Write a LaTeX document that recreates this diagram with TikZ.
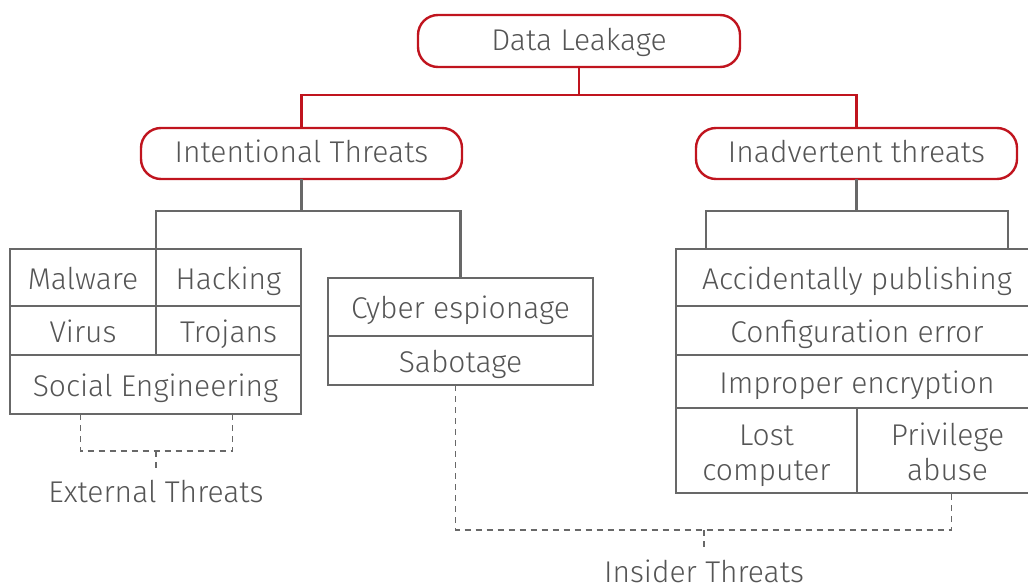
\documentclass[tikz,border=0pt]{standalone}
\usepackage{fontspec}
\setmainfont{Fira Sans Light}
\usepackage{tikz}
\usetikzlibrary{positioning, calc}
\definecolor{leakred}{RGB}{192,20,30}
\definecolor{linegray}{RGB}{104,104,104}
\definecolor{textgray}{RGB}{85,85,85}
\tikzset{
	threat/.style={
			rectangle, rounded corners=20pt,
			draw=leakred, line width=2.4pt, minimum width=321pt, minimum height=51pt,
			inner sep=0pt, outer sep=0pt, text=textgray, text height=19pt, text depth=0pt, text centered},
	cell/.style={
			rectangle, draw=linegray, line width=2.4pt, inner sep=0pt, outer sep=0pt,
			text=textgray, text height=23pt, text depth=0pt, text centered},
	twoline/.style={
			rectangle, draw=linegray, line width=2.4pt, inner sep=0pt, outer sep=0pt,
			text=textgray, align=center, text height=59pt, text depth=0pt},
	redline/.style={draw=leakred, line width=2.4pt},
	grayline/.style={draw=linegray, line width=2.4pt},
	dashline/.style={draw=linegray, line width=1.1pt, dash pattern=on 6pt off 5pt},
	groupname/.style={text=textgray, inner sep=0pt, text height=21pt, text depth=0pt},
}

\begin{document}
\begin{tikzpicture}[x=1pt, y=-1pt, font=\fontsize{30}{35}\selectfont]
	\useasboundingbox (0,0) rectangle (1028,583);

	% top of the tree
	\node[threat, minimum width=322pt, minimum height=52pt] (root) at (579,41) {Data Leakage};
	\node[threat] (intent) at (301.5,153.5) {Intentional Threats};
	\node[threat] (inadv) at (856.5,153.5) {Inadvertent threats};

	\coordinate (rootsplit) at (579,95);
	\draw[redline] (root.south) -- (rootsplit) -| (intent.north);
	\draw[redline] (rootsplit) -| (inadv.north);

	% intentional: external attacks
	\node[cell, minimum width=146pt, minimum height=57pt, anchor=north west] (mal) at (10,249) {Malware};
	\node[cell, minimum width=145pt, minimum height=57pt, right=0pt of mal] (hack) {Hacking};
	\node[cell, minimum width=146pt, minimum height=49pt, below=0pt of mal] (virus) {Virus};
	\node[cell, minimum width=145pt, minimum height=49pt, right=0pt of virus] (troj) {Trojans};
	\node[cell, minimum width=291pt, minimum height=59pt, anchor=north west] (soc) at (virus.south west) {Social Engineering};

	% intentional: insider acts
	\node[cell, minimum width=265pt, minimum height=58pt, anchor=north west] (cyber) at (328,278) {Cyber espionage};
	\node[cell, minimum width=265pt, minimum height=49pt, below=0pt of cyber] (sab) {Sabotage};

	\coordinate (intsplit) at (301.5,211);
	\draw[grayline] (intent.south) -- (intsplit) -| (mal.north east);
	\draw[grayline] (intsplit) -| (cyber.north);

	% inadvertent
	\node[cell, minimum width=362pt, minimum height=57pt, anchor=north west] (acc) at (676,249) {Accidentally publishing};
	\node[cell, minimum width=362pt, minimum height=49pt, below=0pt of acc] (conf) {Configuration error};
	\node[cell, minimum width=362pt, minimum height=53pt, below=0pt of conf] (impr) {Improper encryption};
	\node[twoline, minimum width=181pt, minimum height=85pt, anchor=north west] (lost) at (impr.south west) {Lost\\computer};
	\node[twoline, minimum width=181pt, minimum height=85pt, right=0pt of lost] (priv) {Privilege\\abuse};

	\coordinate (inadsplit) at (856.5,211);
	\draw[grayline] (inadv.south) -- (inadsplit) -| ([xshift=30pt]acc.north west);
	\draw[grayline] (inadsplit) -| ([xshift=-30pt]acc.north east);

	% threat groups
	\node[groupname] (ext) at (156,492) {External Threats};
	\coordinate (extmid) at (156,451);
	\draw[dashline] ([xshift=-75pt]soc.south) |- (extmid) -| ([xshift=77pt]soc.south);
	\draw[dashline] (extmid) -- ++(0,20);

	\node[groupname] (ins) at (704,572) {Insider Threats};
	\coordinate (insmid) at (704,530);
	\draw[dashline] ([xshift=-5pt]sab.south) |- (insmid) -| ([xshift=4pt]priv.south);
	\draw[dashline] (insmid) -- ++(0,20);
\end{tikzpicture}
\end{document}
